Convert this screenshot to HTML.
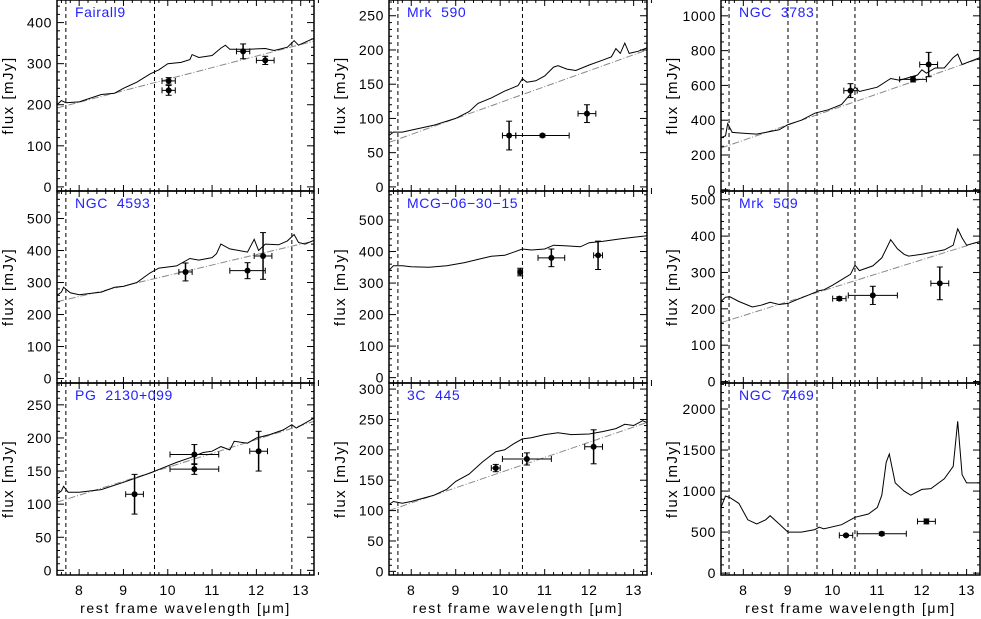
<!DOCTYPE html>
<html><head><meta charset="utf-8"><style>
html,body{margin:0;padding:0;background:#fff;}
svg{display:block;font-family:"Liberation Sans",sans-serif;}
</style></head><body>
<svg id="chart" width="981" height="619" viewBox="0 0 981 619" xmlns="http://www.w3.org/2000/svg"></svg>
<script>
// ---- data ----
const fairall9Wave=[7.5,7.6,7.7,8.0,8.5,8.8,9.0,9.3,9.6,9.8,10.0,10.3,10.5,10.55,10.7,11.0,11.2,11.3,11.4,11.8,12.0,12.2,12.4,12.7,12.85,12.95,13.3];
const fairall9Flux=[200,210,205,207,225,228,240,255,275,285,300,303,310,322,315,320,338,345,335,335,336,337,332,340,356,345,362];
const fairall9Cont=[192,355];
const fairall9PtX=[10.02,10.02,11.7,12.2];
const fairall9PtY=[258,235,330,308];
const fairall9PtXe=[0.15,0.15,0.15,0.2];
const fairall9PtYe=[8,12,18,10];

const mrk590Wave=[7.5,7.6,7.8,8.0,8.5,9.0,9.3,9.5,9.8,10.1,10.4,10.5,10.6,10.8,11.0,11.2,11.3,11.5,11.7,12.0,12.3,12.5,12.6,12.7,12.8,12.9,13.1,13.3];
const mrk590Flux=[75,80,80,83,90,100,110,122,130,140,148,158,153,155,162,175,177,172,170,178,185,190,202,195,210,195,198,203];
const mrk590Cont=[65,200];
const mrk590PtX=[10.2,10.95,11.95];
const mrk590PtY=[75,75,107];
const mrk590PtXe=[0.15,0.6,0.2];
const mrk590PtYe=[21,2,13];

const ngc3783Wave=[7.5,7.6,7.65,7.75,8.0,8.3,8.5,8.8,9.0,9.3,9.6,9.9,10.2,10.4,10.5,10.6,11.0,11.3,11.5,11.9,12.0,12.1,12.3,12.5,12.7,12.8,12.9,13.3];
const ngc3783Flux=[300,310,380,330,325,320,330,345,375,400,440,460,490,550,590,565,590,640,630,660,690,670,700,700,760,780,720,760];
const ngc3783Cont=[240,755];
const ngc3783PtX=[10.4,11.8,12.15];
const ngc3783PtY=[570,635,720];
const ngc3783PtXe=[0.15,0.3,0.2];
const ngc3783PtYe=[40,15,70];

const ngc4593Wave=[7.5,7.6,7.65,7.8,8.0,8.5,8.8,9.0,9.3,9.6,9.8,10.2,10.5,10.7,11.0,11.1,11.2,11.4,11.8,11.95,12.05,12.2,12.5,12.7,12.85,12.95,13.1,13.3];
const ngc4593Flux=[260,270,285,268,262,270,285,288,300,330,345,352,375,370,378,390,420,405,395,435,400,420,418,430,450,425,420,432];
const ngc4593Cont=[240,430];
const ngc4593PtX=[10.4,11.8,12.15];
const ngc4593PtY=[333,337,383];
const ngc4593PtXe=[0.15,0.4,0.2];
const ngc4593PtYe=[28,25,73];

const mcgWave=[7.5,7.6,7.8,8.0,8.4,8.8,9.2,9.5,9.8,10.1,10.3,10.5,10.7,11.0,11.2,11.5,11.8,12.0,12.3,12.7,13.0,13.3];
const mcgFlux=[340,355,355,352,350,355,365,375,385,388,398,408,405,408,420,418,415,428,432,440,445,450];
const mcgPtX=[10.45,11.15,12.2];
const mcgPtY=[335,380,388];
const mcgPtXe=[0.05,0.3,0.1];
const mcgPtYe=[12,28,45];

const mrk509Wave=[7.5,7.6,7.7,7.9,8.2,8.4,8.6,8.8,9.0,9.2,9.5,9.7,9.8,10.0,10.2,10.4,10.5,10.6,10.9,11.1,11.3,11.45,11.6,11.7,12.0,12.2,12.5,12.7,12.8,12.9,13.0,13.3];
const mrk509Flux=[220,232,233,220,205,210,218,212,215,225,240,250,252,265,280,295,320,305,318,340,390,365,350,345,350,355,362,375,420,395,375,385];
const mrk509Cont=[162,385];
const mrk509PtX=[10.15,10.9,12.4];
const mrk509PtY=[228,237,270];
const mrk509PtXe=[0.15,0.55,0.2];
const mrk509PtYe=[5,25,45];

const pg2130Wave=[7.5,7.6,7.65,7.75,8.0,8.5,9.0,9.3,9.6,9.9,10.2,10.5,10.8,11.0,11.2,11.4,11.5,11.8,12.0,12.3,12.6,12.8,12.9,13.3];
const pg2130Flux=[115,120,127,118,118,122,133,140,147,155,163,170,178,180,187,182,195,192,200,205,212,220,215,230];
const pg2130Cont=[103,225];
const pg2130PtX=[9.25,10.6,10.6,12.05];
const pg2130PtY=[115,175,153,180];
const pg2130PtXe=[0.2,0.55,0.55,0.2];
const pg2130PtYe=[30,15,8,30];

const c445Wave=[7.5,7.6,7.8,8.0,8.5,8.8,9.0,9.3,9.6,9.9,10.1,10.3,10.5,10.7,11.0,11.3,11.6,12.0,12.3,12.6,12.8,13.0,13.2,13.3];
const c445Flux=[110,115,112,115,125,135,148,160,180,197,200,210,218,220,225,228,225,226,230,235,242,240,248,245];
const c445Cont=[100,245];
const c445PtX=[9.9,10.6,12.1];
const c445PtY=[170,185,205];
const c445PtXe=[0.1,0.55,0.2];
const c445PtYe=[6,10,28];

const ngc7469Wave=[7.5,7.6,7.7,7.9,8.1,8.3,8.5,8.6,8.8,9.0,9.3,9.6,9.7,9.8,10.2,10.5,10.8,11.0,11.1,11.2,11.27,11.4,11.6,11.75,12.0,12.2,12.5,12.7,12.8,12.9,13.0,13.3];
const ngc7469Flux=[800,940,920,850,650,600,650,700,600,500,500,530,560,540,590,680,720,800,950,1350,1450,1100,1000,950,1020,1030,1150,1300,1850,1200,1100,1100];
const ngc7469PtX=[10.3,11.1,12.1];
const ngc7469PtY=[460,480,630];
const ngc7469PtXe=[0.15,0.55,0.2];
const ngc7469PtYe=[10,20,30];

const xTickLabels=[8,9,10,11,12,13];

const panels=[
 {id:'fairall9',label:'Fairall9',col:0,row:0,ymin:-10,ymax:455,ticks:[0,100,200,300,400],minor:20,vl:[7.7,9.7,12.8],w:fairall9Wave,f:fairall9Flux,c:fairall9Cont,px:fairall9PtX,py:fairall9PtY,pxe:fairall9PtXe,pye:fairall9PtYe},
 {id:'ngc4593',label:'NGC  4593',col:0,row:1,ymin:-14,ymax:586,ticks:[0,100,200,300,400,500],minor:20,vl:[7.7,9.7,12.8],w:ngc4593Wave,f:ngc4593Flux,c:ngc4593Cont,px:ngc4593PtX,py:ngc4593PtY,pxe:ngc4593PtXe,pye:ngc4593PtYe},
 {id:'pg2130',label:'PG  2130+099',col:0,row:2,ymin:-7,ymax:283,ticks:[0,50,100,150,200,250],minor:10,vl:[7.7,9.7,12.8],w:pg2130Wave,f:pg2130Flux,c:pg2130Cont,px:pg2130PtX,py:pg2130PtY,pxe:pg2130PtXe,pye:pg2130PtYe},
 {id:'mrk590',label:'Mrk  590',col:1,row:0,ymin:-6,ymax:273,ticks:[0,50,100,150,200,250],minor:10,vl:[7.7,10.5],w:mrk590Wave,f:mrk590Flux,c:mrk590Cont,px:mrk590PtX,py:mrk590PtY,pxe:mrk590PtXe,pye:mrk590PtYe},
 {id:'mcg',label:'MCG\u221206\u221230\u221215',col:1,row:1,ymin:-17,ymax:592,ticks:[0,100,200,300,400,500],minor:20,vl:[7.7,10.5],w:mcgWave,f:mcgFlux,c:null,px:mcgPtX,py:mcgPtY,pxe:mcgPtXe,pye:mcgPtYe},
 {id:'3c445',label:'3C  445',col:1,row:2,ymin:-6,ymax:310,ticks:[0,50,100,150,200,250,300],minor:10,vl:[7.7,10.5],w:c445Wave,f:c445Flux,c:c445Cont,px:c445PtX,py:c445PtY,pxe:c445PtXe,pye:c445PtYe},
 {id:'ngc3783',label:'NGC  3783',col:2,row:0,ymin:-7,ymax:1091,ticks:[0,200,400,600,800,1000],minor:50,vl:[7.68,9.0,9.65,10.5],w:ngc3783Wave,f:ngc3783Flux,c:ngc3783Cont,px:ngc3783PtX,py:ngc3783PtY,pxe:ngc3783PtXe,pye:ngc3783PtYe},
 {id:'mrk509',label:'Mrk  509',col:2,row:1,ymin:-4,ymax:524,ticks:[0,100,200,300,400,500],minor:20,vl:[7.68,9.0,9.65,10.5],w:mrk509Wave,f:mrk509Flux,c:mrk509Cont,px:mrk509PtX,py:mrk509PtY,pxe:mrk509PtXe,pye:mrk509PtYe},
 {id:'ngc7469',label:'NGC  7469',col:2,row:2,ymin:-23,ymax:2317,ticks:[0,500,1000,1500,2000],minor:100,vl:[7.68,9.0,9.65,10.5],w:ngc7469Wave,f:ngc7469Flux,c:null,px:ngc7469PtX,py:ngc7469PtY,pxe:ngc7469PtXe,pye:ngc7469PtYe}
];

const colX=[[57,314],[389,647],[721,980]];
const rowY=[[0,191],[191,383],[383,575]];
const XMIN=7.5,XMAX=13.3;
const NS='http://www.w3.org/2000/svg';
const svg=document.getElementById('chart');
function mk(tag,attrs,parent){const e=document.createElementNS(NS,tag);for(const k in attrs)e.setAttribute(k,attrs[k]);(parent||svg).appendChild(e);return e;}

panels.forEach(p=>{
  const [x0,x1]=colX[p.col],[y0,y1]=rowY[p.row];
  const sx=v=>x0+(v-XMIN)/(XMAX-XMIN)*(x1-x0);
  const sy=v=>y1-(v-p.ymin)/(p.ymax-p.ymin)*(y1-y0);
  const g=mk('g',{});
  
  
  const defs=mk('clipPath',{id:'clip-'+p.id},g);
  mk('rect',{x:x0,y:y0,width:x1-x0,height:y1-y0},defs);
  p.vl.forEach(v=>{
    const l=mk('line',{x1:sx(v),x2:sx(v),y1:y0,y2:y1,stroke:'#000','stroke-width':1,'stroke-dasharray':'4,3'},g);
    
    
  });
  const inner=mk('g',{'clip-path':'url(#clip-'+p.id+')'},g);
  if(p.c){
    const cl=mk('line',{x1:sx(XMIN),y1:sy(p.c[0]),x2:sx(XMAX),y2:sy(p.c[1]),stroke:'#888','stroke-width':1,'stroke-dasharray':'7,2,1,2'},inner);
    
    
  }
  const d=p.w.map((w,i)=>(i?'L':'M')+sx(w).toFixed(1)+','+sy(p.f[i]).toFixed(1)).join('');
  const sp=mk('path',{d:d,fill:'none',stroke:'#000','stroke-width':1},inner);
  
  
  p.px.forEach((x,i)=>{
    const y=p.py[i],xe=p.pxe[i],ye=p.pye[i];
    const pg=mk('g',{},inner);
    
    
    mk('line',{x1:sx(x-xe),x2:sx(x+xe),y1:sy(y),y2:sy(y),stroke:'#000','stroke-width':1},pg);
    mk('line',{x1:sx(x-xe),x2:sx(x-xe),y1:sy(y)-3,y2:sy(y)+3,stroke:'#000','stroke-width':1},pg);
    mk('line',{x1:sx(x+xe),x2:sx(x+xe),y1:sy(y)-3,y2:sy(y)+3,stroke:'#000','stroke-width':1},pg);
    mk('line',{x1:sx(x),x2:sx(x),y1:sy(y-ye),y2:sy(y+ye),stroke:'#000','stroke-width':1.5},pg);
    mk('line',{x1:sx(x)-3,x2:sx(x)+3,y1:sy(y-ye),y2:sy(y-ye),stroke:'#000','stroke-width':1},pg);
    mk('line',{x1:sx(x)-3,x2:sx(x)+3,y1:sy(y+ye),y2:sy(y+ye),stroke:'#000','stroke-width':1},pg);
    mk('circle',{cx:sx(x),cy:sy(y),r:3,fill:'#000'},pg);
  });
  const fr=mk('rect',{x:x0,y:y0,width:x1-x0,height:y1-y0,fill:'none',stroke:'#000','stroke-width':1.5},g);
  
  
  for(let k=Math.round(XMIN*5);k<=Math.round(XMAX*5);k++){
    const v=k/5,maj=(k%5===0),len=maj?6:3;
    mk('line',{x1:sx(v),x2:sx(v),y1:y1,y2:y1-len,stroke:'#000','stroke-width':1},g);
    mk('line',{x1:sx(v),x2:sx(v),y1:y0,y2:y0+len,stroke:'#000','stroke-width':1},g);
  }
  for(let v=Math.ceil(p.ymin/p.minor)*p.minor;v<=p.ymax;v+=p.minor){
    const maj=p.ticks.indexOf(v)>=0,len=maj?7:3;
    mk('line',{x1:x0,x2:x0+len,y1:sy(v),y2:sy(v),stroke:'#000','stroke-width':1},g);
    mk('line',{x1:x1,x2:x1-len,y1:sy(v),y2:sy(v),stroke:'#000','stroke-width':1},g);
  }
  p.ticks.forEach(v=>{
    const t=mk('text',{x:x0-5,y:sy(v)+5,'text-anchor':'end','font-size':14,'letter-spacing':0.6,fill:'#000'},g);
    t.textContent=v;
    
    
  });
  const yt=mk('text',{x:0,y:0,transform:`translate(${x0-44},${(y0+y1)/2}) rotate(-90)`,'text-anchor':'middle','font-size':15,'letter-spacing':1.5,fill:'#000'},g);
  yt.textContent='flux [mJy]';
  
  
  const nl=mk('text',{x:x0+18,y:y0+17,'font-size':14,'letter-spacing':0.6,fill:'#2222ff'},g);
  nl.textContent=p.label;
  nl.style.whiteSpace='pre';
  
  
  if(p.row===2){
    xTickLabels.forEach(v=>{
      const t=mk('text',{x:sx(v),y:595,'text-anchor':'middle','font-size':14,'letter-spacing':0.6,fill:'#000'},g);
      t.textContent=v;
      
      
    });
    const xt=mk('text',{x:(x0+x1)/2,y:613,'text-anchor':'middle','font-size':14,'letter-spacing':1.6,fill:'#000'},g);
    xt.textContent='rest frame wavelength [\u03bcm]';
    
    
  }
});
</script>
</body></html>
